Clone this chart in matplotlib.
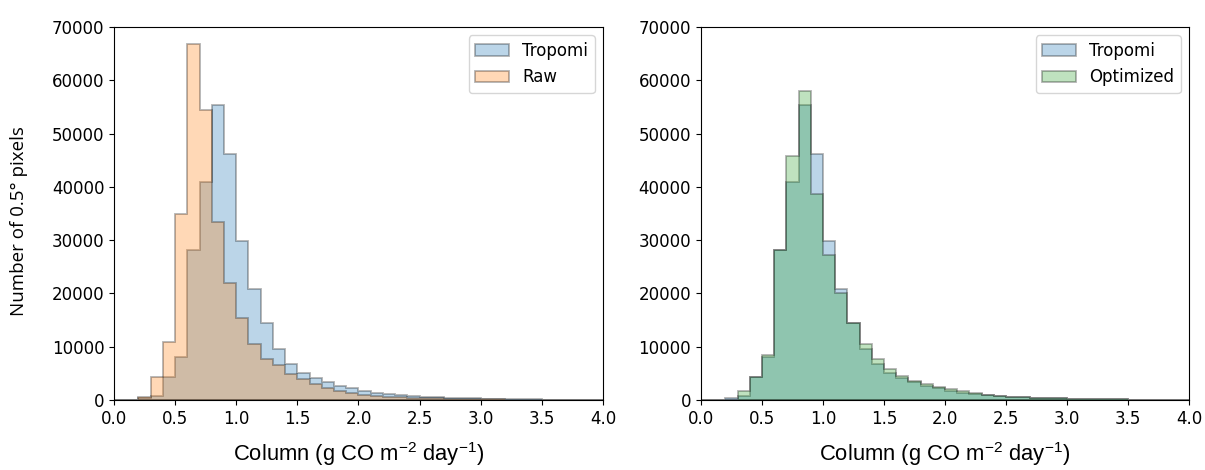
import numpy as np
import matplotlib.pyplot as plt

# bin edges (g CO m-2 day-1), 0.1 wide from 0 to 4
edges = np.round(np.arange(0.0, 4.01, 0.1), 2)

tropomi = [0, 0, 300, 800, 4400, 8000, 28100, 40900, 55300, 46250,
           29900, 20750, 14400, 9500, 6700, 5100, 4100, 3300, 2700, 2200,
           1750, 1400, 1100, 900, 750, 600, 500, 420, 350, 290,
           240, 200, 160, 130, 100, 80, 60, 40, 30, 20]
raw = [0, 0, 500, 4400, 10900, 34900, 66900, 54400, 33500, 21900,
       15300, 10600, 7700, 6600, 4900, 3900, 3000, 2300, 1750, 1400,
       1000, 800, 650, 530, 440, 360, 300, 250, 200, 160,
       130, 100, 80, 60, 45, 35, 25, 18, 12, 8]
optimized = [0, 0, 0, 1700, 4400, 8400, 28100, 45750, 58000, 38600,
             27200, 20100, 14400, 10600, 7700, 5800, 4500, 3600, 3000, 2400,
             2000, 1600, 1250, 1000, 820, 660, 540, 450, 370, 300,
             250, 200, 160, 130, 100, 80, 60, 40, 30, 20]

xlabel = "Column (g CO m$^{\\mathregular{-2}}$ day$^{\\mathregular{-1}}$)"

fig = plt.figure(figsize=(12.05, 4.70), dpi=100)
ax1 = fig.add_axes([0.0946, 0.1489, 0.4058, 0.7936])
ax2 = fig.add_axes([0.5817, 0.1489, 0.4050, 0.7936])


def draw(ax, series, labels, colors):
    for vals, lab, col in zip(series, labels, colors):
        ax.hist(edges[:-1], bins=edges, weights=vals, histtype='stepfilled',
                color=col, alpha=0.3, ec='k', lw=1.3, label=lab)
    ax.set_xlim(0, 4)
    ax.set_ylim(0, 70000)
    ax.set_xticks(np.arange(0, 4.01, 0.5))
    ax.set_yticks(np.arange(0, 70001, 10000))
    ax.tick_params(labelsize=12)
    ax.set_xlabel(xlabel, fontsize=15.8, family='Liberation Sans', labelpad=9)
    ax.legend(loc='upper right', fontsize=12)


draw(ax1, [tropomi, raw], ['Tropomi', 'Raw'], ['tab:blue', 'tab:orange'])
draw(ax2, [tropomi, optimized], ['Tropomi', 'Optimized'], ['tab:blue', 'tab:green'])
ax1.set_ylabel("Number of 0.5° pixels", fontsize=13.5, family='Open Sans')
ax1.yaxis.set_label_coords(-0.175, 0.48)

fig.savefig("out.png")
